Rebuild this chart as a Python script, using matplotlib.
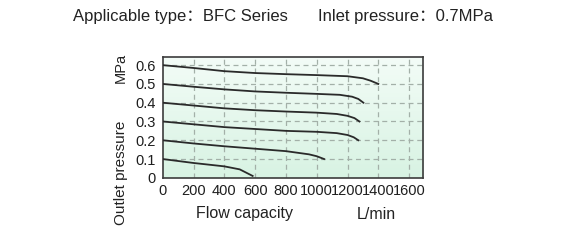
import numpy as np
import matplotlib
matplotlib.use("Agg")
import matplotlib.pyplot as plt
from matplotlib.colors import LinearSegmentedColormap

FONT = ["Liberation Sans", "Noto Sans CJK SC", "DejaVu Sans"]
plt.rcParams["font.family"] = FONT

# Flow capacity (L/min) vs outlet pressure (MPa), one curve per set pressure
flow_06 = [0, 200, 400, 600, 800, 1000, 1200, 1300, 1350, 1400]
pres_06 = [0.600, 0.585, 0.568, 0.558, 0.552, 0.547, 0.541, 0.530, 0.517, 0.500]

flow_05 = [0, 200, 400, 600, 800, 1000, 1150, 1230, 1270, 1303]
pres_05 = [0.500, 0.485, 0.471, 0.460, 0.453, 0.447, 0.442, 0.432, 0.420, 0.400]

flow_04 = [0, 200, 400, 600, 800, 1000, 1130, 1200, 1245, 1277]
pres_04 = [0.400, 0.385, 0.370, 0.360, 0.353, 0.347, 0.340, 0.330, 0.318, 0.300]

flow_03 = [0, 200, 400, 600, 800, 1000, 1130, 1200, 1240, 1270]
pres_03 = [0.300, 0.285, 0.270, 0.260, 0.250, 0.245, 0.238, 0.228, 0.216, 0.200]

flow_02 = [0, 200, 400, 600, 800, 950, 1000, 1048]
pres_02 = [0.200, 0.183, 0.168, 0.155, 0.142, 0.125, 0.115, 0.100]

flow_01 = [0, 200, 400, 500, 584]
pres_01 = [0.100, 0.079, 0.061, 0.045, 0.010]

curves = [(flow_06, pres_06), (flow_05, pres_05), (flow_04, pres_04),
          (flow_03, pres_03), (flow_02, pres_02), (flow_01, pres_01)]

x_ticks = [0, 200, 400, 600, 800, 1000, 1200, 1400, 1600]
y_ticks = [0, 0.1, 0.2, 0.3, 0.4, 0.5, 0.6]
y_ticklabels = ["0", "0.1", "0.2", "0.3", "0.4", "0.5", "0.6"]

W, H = 565, 240
fig = plt.figure(figsize=(W / 100, H / 100), dpi=100)
fig.patch.set_facecolor("white")

ax = fig.add_axes([162.7 / W, 1 - 178 / H, (423 - 162.7) / W, (178 - 56.7) / H])
xmin, xmax, ymin, ymax = 0, 1690, -0.001, 0.645
ax.set_xlim(xmin, xmax)
ax.set_ylim(ymin, ymax)

# pale green background, slightly deeper towards the bottom
cmap = LinearSegmentedColormap.from_list("bg", ["#f3fcf7", "#d8f3e3"])
grad = np.linspace(0, 1, 100).reshape(-1, 1)
ax.imshow(grad, cmap=cmap, aspect="auto", extent=[xmin, xmax, ymin, ymax],
          origin="upper", zorder=0)

for xv in x_ticks[1:]:
    ax.axvline(xv, color="#a3b0a8", lw=0.9, ls=(0, (4, 3)), zorder=1)
for yv in y_ticks[1:]:
    ax.axhline(yv, color="#a3b0a8", lw=0.9, ls=(0, (4, 3)), zorder=1)

for fx, py in curves:
    ax.plot(fx, py, color="#2a2a2a", lw=1.3, zorder=3)

ax.set_xticks(x_ticks)
ax.set_xticklabels([str(v) for v in x_ticks], fontsize=10.5, color="#1e1e1e")
ax.set_yticks(y_ticks)
ax.set_yticklabels(y_ticklabels, fontsize=10.5, color="#1e1e1e")
ax.tick_params(axis="x", length=0, pad=4)
ax.tick_params(axis="y", length=0, pad=5)
for s in ax.spines.values():
    s.set_color("#3c3c3c")
    s.set_linewidth(1.2)

txt = dict(color="#222222", family=FONT)
fig.text(73 / W, 1 - 17 / H, "Applicable type：BFC Series", fontsize=12,
         ha="left", va="center", **txt)
fig.text(318 / W, 1 - 17 / H, "Inlet pressure：0.7MPa", fontsize=12,
         ha="left", va="center", **txt)
fig.text(196 / W, 1 - 218 / H, "Flow capacity", fontsize=11.5,
         ha="left", va="baseline", **txt)
fig.text(357 / W, 1 - 219 / H, "L/min", fontsize=11.5,
         ha="left", va="baseline", **txt)
fig.text(121 / W, 1 - 173 / H, "Outlet pressure", fontsize=11, rotation=90,
         ha="center", va="center", **txt)
fig.text(121 / W, 1 - 68 / H, "MPa", fontsize=10.5, rotation=90,
         ha="center", va="center", **txt)

fig.savefig("out.png", dpi=100)
